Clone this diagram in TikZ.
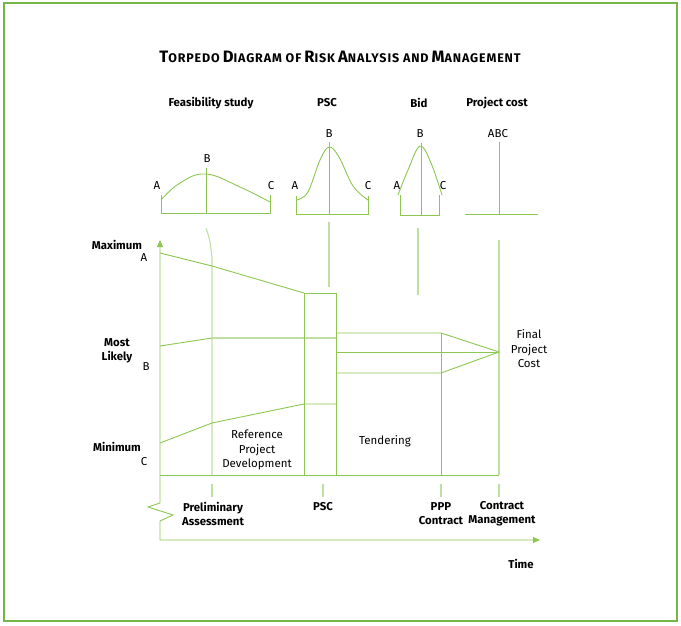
\documentclass[tikz,border=0pt]{standalone}
\usepackage{fontspec}
\setmainfont{Fira Sans}
\setsansfont{Fira Sans}
\usetikzlibrary{arrows.meta}
\definecolor{risk}{RGB}{141,198,80}
\definecolor{riskpale}{RGB}{192,224,162}
\definecolor{framegreen}{RGB}{118,182,70}
\newcommand{\smc}[2]{{\fontsize{16.5}{16}\selectfont #1}{\fontsize{12.5}{12}\selectfont #2}}
\begin{document}
\begin{tikzpicture}[x=1pt,y=-1pt,font=\sffamily,
  curve/.style={risk,line width=0.9pt},
  pale/.style={riskpale,line width=1.1pt},
  lbl/.style={font=\bfseries\fontsize{11.4}{14}\selectfont,align=center,inner sep=0pt},
  txt/.style={font=\fontsize{11.5}{14.5}\selectfont,align=center,inner sep=0pt},
  >={Triangle[length=7pt,width=6pt]}]
\useasboundingbox (0,0) rectangle (681,626);
\draw[framegreen,line width=1.3pt] (4,3) rectangle (677,621); %frame
\node[font=\bfseries\addfontfeatures{LetterSpace=7}] (title) at (340,57) {\smc{T}{ORPEDO} \smc{D}{IAGRAM OF} \smc{R}{ISK} \smc{A}{NALYSIS AND} \smc{M}{ANAGEMENT}};
%top graphs
	%headings
	\node[lbl] (hfeas) at (211,103) {Feasibility study};
	\node[lbl] (hpsc) at (327,103) {PSC};
	\node[lbl] (hbid) at (419,103) {Bid};
	\node[lbl] (hcost) at (497,103) {Project cost};
	
	%feasibility study
	\draw[curve] (161,195) -- (161,213) -- (270,213) -- (270,195); %base
	\draw[curve] (206,168) -- (206,213); %B line
	\draw[curve] plot [smooth, tension=0.7] coordinates{(161,200) (180,183) (206,174) (240,187) (270,202)};
	\node[txt] (fa) at (157,186) {A};
	\node[txt] (fb) at (207,159) {B};
	\node[txt] (fc) at (271,186) {C};
	
	%PSC
	\draw[curve] (296,196) -- (296,214) -- (368,214) -- (368,196); %base
	\draw[curve] (329,142) -- (329,214); %B line
	\draw[curve] plot [smooth, tension=0.6] coordinates{(297,200) (308,192) (320,160) (329,147) (339,157) (353,186) (368,200)};
	\node[txt] (pa) at (295,186) {A};
	\node[txt] (pb) at (329,134) {B};
	\node[txt] (pc) at (368,186) {C};
	
	%bid
	\draw[curve] (400,195) -- (400,215) -- (439,215) -- (439,195); %base
	\draw[curve] (421,143) -- (421,215); %B line
	\draw[curve] plot [smooth, tension=0.6] coordinates{(398,195) (408,170) (420,146) (431,163) (442,195)};
	\node[txt] (ba) at (397,186) {A};
	\node[txt] (bb) at (420,134) {B};
	\node[txt] (bc) at (443,186) {C};
	
	%project cost
	\draw[curve] (465,214) -- (538,214); %base
	\draw[curve] (499,142) -- (499,214); %ABC line
	\node[txt] (abc) at (498,134) {ABC};
%bottom graph-------------------------------
	%axes
	\draw[curve,<->] (160,240) -- (160,503) -- (148,507) -- (173,515) -- (160,521) -- (160,540) -- (540,540);
	\draw[curve] (160,475) -- (499,475); %base line
	
	%stage lines
	\draw[pale] (206,228) .. controls (210,240) .. (212,258) -- (212,475); %preliminary
	\draw[pale] (329,222) -- (329,287); %PSC
	\draw[pale] (418,228) -- (418,295); %bid
	\draw[pale] (499,240) -- (499,475); %contract
	
	%ticks
	\foreach \x in {212,323,441,499}
		\draw[pale] (\x,484) -- (\x,497);
	
	%torpedo
	\draw[curve] (160,253) -- (212,266) -- (304,293); %A
	\draw[curve] (160,346) -- (212,338); %B
	\draw[pale] (212,338) -- (336,338); %B
	\draw[curve] (160,443) -- (212,423) -- (304,404) -- (336,404); %C
	\draw[curve] (304,475) -- (304,293) -- (336,293) -- (336,475); %PSC box
	\draw[curve] (336,333) -- (441,333) -- (499,352); %upper bid
	\draw[curve] (336,373) -- (441,373) -- (499,352); %lower bid
	\draw[curve] (336,352) -- (499,352); %middle bid
	\draw[curve] (441,333) -- (441,475); %contract
	
	%labels
	\node[lbl] (max) at (117,245) {Maximum};
	\node[txt] (maxa) at (144,258) {A};
	\node[lbl] (likely) at (117,351) {Most\\Likely};
	\node[txt] (likelyb) at (146,367) {B};
	\node[lbl] (min) at (117,447) {Minimum};
	\node[txt] (minc) at (144,462) {C};
	\node[txt] (refdev) at (257,450) {Reference\\Project\\Development};
	\node[txt] (tender) at (385,441) {Tendering};
	\node[txt] (final) at (529,349) {Final\\Project\\Cost};
	\node[lbl] (prelim) at (213,514) {Preliminary\\Assessment};
	\node[lbl] (psc) at (323,507) {PSC};
	\node[lbl] (ppp) at (441,514) {PPP\\Contract};
	\node[lbl] (manage) at (502,514) {Contract\\Management};
	\node[lbl] (time) at (521,564) {Time};
\end{tikzpicture}
\end{document}
